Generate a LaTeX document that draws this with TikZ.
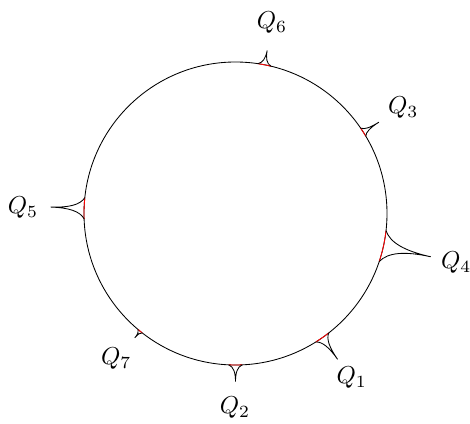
\documentclass[tikz,border=0pt]{standalone}
\usepackage{graphicx}
\newcommand\spk[3]{%
  \pgfmathsetmacro\ra{151.5+0.12*(#3-151.5)}%
  \pgfmathsetmacro\rb{151.5+0.45*(#3-151.5)}%
  \draw[redarc] (#1-#2:151.5pt) arc[start angle=#1-#2, end angle=#1+#2, radius=151.5pt];
  \draw[spikeline] (#1+#2:151.5pt) .. controls (#1+0.3*#2:\ra pt) and (#1:\rb pt) .. (#1:#3pt)
    .. controls (#1:\rb pt) and (#1-0.3*#2:\ra pt) .. (#1-#2:151.5pt);
}
\newcommand\qlab[1]{\scalebox{2.45}{$Q_{#1}$}}
\begin{document}
\begin{tikzpicture}[line width=0.85pt,
  redarc/.style={red, line width=0.85pt},
  spikeline/.style={black, line width=0.85pt},
  qlabel/.style={inner sep=0pt}]
\useasboundingbox (-235.5pt,-209.5pt) rectangle (234.5pt,213.5pt);
\node[circle, draw, minimum size=303pt, inner sep=0pt, line width=0.85pt] (c) at (0,0) {};
\spk{79}{2.5}{166}
\spk{32.5}{1.8}{170}
\spk{-12.5}{6}{200}
\spk{-55}{3}{178}
\spk{-90}{2.5}{168}
\spk{-129}{1}{160}
\spk{178}{4}{185}
\node[qlabel] (q6) at (36.5pt,190.5pt) {\qlab{6}};
\node[qlabel] (q3) at (167.8pt,106pt) {\qlab{3}};
\node[qlabel] (q4) at (220.8pt,-49pt) {\qlab{4}};
\node[qlabel] (q1) at (116.2pt,-164.5pt) {\qlab{1}};
\node[qlabel] (q2) at (-0.5pt,-194.5pt) {\qlab{2}};
\node[qlabel] (q7) at (-119.2pt,-145.5pt) {\qlab{7}};
\node[qlabel] (q5) at (-212.5pt,5.8pt) {\qlab{5}};
\end{tikzpicture}
\end{document}
